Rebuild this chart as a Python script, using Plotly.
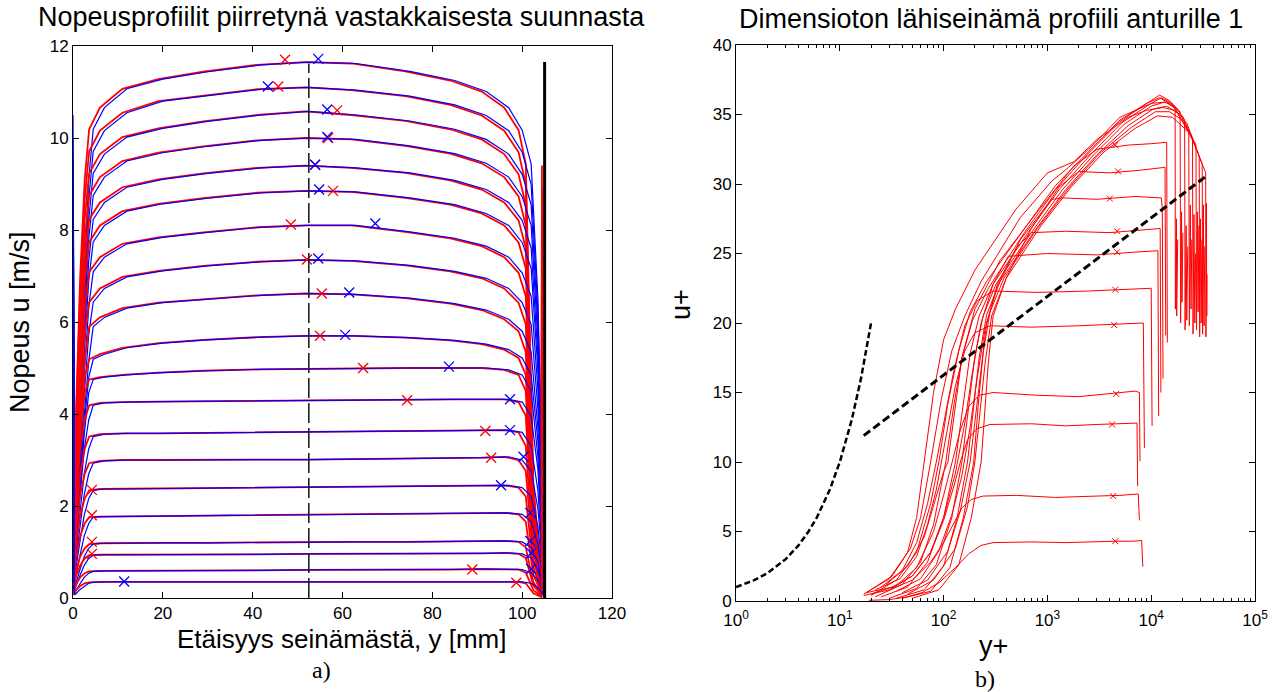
import plotly.graph_objects as go

# ---------------- LEFT PANEL DATA (velocity profiles, mm vs m/s) ----------------
# measurement stations (mm) for the blue and the red (opposite-direction) profiles
X_BLUE = [0.0, 0.4, 1.5, 2.5, 3.5, 4.5, 7.0, 12.0, 20.0, 30.0, 42.0, 52.5, 63.0, 75.0,
          85.0, 92.0, 97.0, 100.0, 102.0, 103.5, 104.5, 105.0]
X_RED = [0.0, 0.15, 0.7, 1.6, 2.6, 3.6, 6.0, 11.0, 19.0, 29.0, 41.0, 51.7, 62.0, 74.0,
         84.0, 91.0, 96.0, 99.2, 100.8, 101.5, 102.5, 104.3, 104.4]

# velocity values at stations 0.4 ... 105 mm for each of the 20 profiles
P01 = [1.17, 4.08, 6.99, 9.09, 10.19, 10.66, 11.07, 11.28, 11.44, 11.59, 11.65, 11.62, 11.45, 11.25, 11.01, 10.66, 10.17, 9.44, 6.52, 2.45, 0.35]
P02 = [1.11, 3.89, 6.66, 8.66, 9.71, 10.16, 10.55, 10.80, 10.92, 11.06, 11.10, 11.04, 10.91, 10.72, 10.49, 10.16, 9.69, 8.99, 6.22, 2.33, 0.33]
P03 = [1.06, 3.69, 6.33, 8.23, 9.23, 9.65, 10.02, 10.21, 10.36, 10.50, 10.58, 10.50, 10.37, 10.19, 9.97, 9.65, 9.21, 8.55, 5.91, 2.22, 0.32]
P04 = [1.00, 3.50, 6.00, 7.80, 8.75, 9.15, 9.50, 9.68, 9.82, 9.95, 10.00, 9.97, 9.83, 9.66, 9.45, 9.15, 8.73, 8.10, 5.60, 2.10, 0.30]
P05 = [0.94, 3.29, 5.64, 7.33, 8.23, 8.60, 8.93, 9.10, 9.23, 9.35, 9.40, 9.35, 9.24, 9.08, 8.88, 8.60, 8.21, 7.61, 5.26, 1.97, 0.28]
P06 = [0.89, 3.10, 5.31, 6.90, 7.74, 8.10, 8.41, 8.57, 8.69, 8.81, 8.85, 8.83, 8.70, 8.55, 8.36, 8.10, 7.73, 7.17, 4.96, 1.86, 0.27]
P07 = [0.81, 2.84, 4.86, 6.32, 7.09, 7.41, 7.70, 7.84, 7.95, 8.06, 8.10, 8.10, 7.96, 7.82, 7.65, 7.41, 7.07, 6.56, 4.54, 1.70, 0.24]
P08 = [0.74, 2.57, 4.41, 5.73, 6.43, 6.73, 6.98, 7.11, 7.22, 7.31, 7.35, 7.33, 7.23, 7.10, 6.95, 6.73, 6.42, 5.95, 4.12, 1.54, 0.22]
P09 = [0.66, 2.31, 3.96, 5.15, 5.90, 6.10, 6.30, 6.42, 6.50, 6.58, 6.62, 6.60, 6.52, 6.40, 6.26, 6.06, 5.80, 5.35, 3.70, 1.39, 0.20]
P10 = [0.68, 2.28, 3.76, 4.79, 5.19, 5.30, 5.44, 5.54, 5.61, 5.67, 5.70, 5.70, 5.66, 5.60, 5.52, 5.40, 5.22, 4.85, 3.42, 1.31, 0.23]
P11 = [0.74, 2.23, 3.56, 4.46, 4.75, 4.80, 4.85, 4.90, 4.94, 4.97, 4.98, 5.00, 5.00, 5.00, 5.00, 4.96, 4.85, 4.50, 3.07, 1.24, 0.25]
P12 = [0.86, 2.15, 3.23, 3.87, 4.19, 4.24, 4.26, 4.27, 4.28, 4.29, 4.30, 4.30, 4.31, 4.32, 4.32, 4.32, 4.26, 3.96, 2.80, 1.20, 0.26]
P13 = [0.72, 1.80, 2.70, 3.24, 3.51, 3.56, 3.58, 3.58, 3.59, 3.60, 3.60, 3.61, 3.62, 3.63, 3.64, 3.65, 3.60, 3.31, 2.34, 1.01, 0.22]
P14 = [0.60, 1.50, 2.25, 2.70, 2.93, 2.98, 3.00, 3.00, 3.00, 3.01, 3.01, 3.02, 3.03, 3.04, 3.05, 3.07, 3.00, 2.76, 1.95, 0.84, 0.18]
P15 = [0.48, 1.20, 1.80, 2.16, 2.34, 2.37, 2.38, 2.38, 2.39, 2.40, 2.40, 2.41, 2.42, 2.43, 2.44, 2.45, 2.40, 2.21, 1.56, 0.67, 0.14]
P16 = [0.36, 0.90, 1.35, 1.62, 1.76, 1.77, 1.78, 1.78, 1.79, 1.80, 1.80, 1.81, 1.82, 1.83, 1.84, 1.85, 1.82, 1.66, 1.17, 0.50, 0.11]
P17 = [0.24, 0.60, 0.90, 1.08, 1.17, 1.19, 1.20, 1.20, 1.20, 1.21, 1.21, 1.22, 1.22, 1.23, 1.23, 1.24, 1.22, 1.10, 0.78, 0.34, 0.07]
P18 = [0.19, 0.48, 0.71, 0.86, 0.93, 0.94, 0.94, 0.95, 0.95, 0.95, 0.96, 0.96, 0.96, 0.97, 0.97, 0.98, 0.96, 0.87, 0.62, 0.27, 0.06]
P19 = [0.12, 0.30, 0.45, 0.54, 0.58, 0.59, 0.59, 0.59, 0.60, 0.60, 0.61, 0.61, 0.62, 0.62, 0.63, 0.63, 0.62, 0.55, 0.39, 0.17, 0.04]
P20 = [0.07, 0.18, 0.26, 0.32, 0.34, 0.35, 0.35, 0.35, 0.35, 0.35, 0.35, 0.35, 0.35, 0.35, 0.35, 0.36, 0.35, 0.32, 0.23, 0.10, 0.02]
PROFILES = [P01, P02, P03, P04, P05, P06, P07, P08, P09, P10,
            P11, P12, P13, P14, P15, P16, P17, P18, P19, P20]

# readings right at the walls
BLUE_WALL_L = [10.5, 10.0, 9.5, 9.0, 8.5, 8.0, 7.3, 6.6, 5.9, 5.1, 4.4, 3.9, 3.2, 2.7, 2.1, 1.6, 1.1, 0.85, 0.55, 0.3]
RED_WALL_L = [4.5, 4.3, 4.1, 3.9, 3.6, 3.4, 3.1, 2.8, 2.5, 2.2, 2.0, 1.8, 1.5, 1.3, 1.0, 0.8, 0.55, 0.45, 0.3, 0.18]
RED_WALL_R = [9.4, 8.9, 8.3, 7.8, 7.2, 6.6, 6.0, 5.4, 4.8, 4.2, 3.6, 3.1, 2.6, 2.2, 1.8, 1.4, 1.0, 0.8, 0.5, 0.3]

# 'x' markers on each profile
RED_MX = [47.2, 45.7, 58.8, 56.8, 53.9, 57.9, 48.5, 52.1, 55.4, 55.0, 64.6, 74.4, 91.8, 93.1, 4.2, 4.2, 4.2, 4.2, 88.9, 98.7]
RED_MY = [11.70, 11.12, 10.60, 10.00, 9.42, 8.85, 8.12, 7.36, 6.62, 5.70, 5.00, 4.30, 3.63, 3.05, 2.35, 1.80, 1.22, 0.96, 0.62, 0.33]
BLUE_MX = [54.6, 43.4, 56.6, 56.6, 53.9, 54.8, 67.3, 54.6, 61.5, 60.6, 83.7, 97.3, 97.3, 100.3, 95.3, 101.8, 101.8, 102.0, 102.0, 11.4]
BLUE_MY = [11.72, 11.12, 10.62, 10.02, 9.42, 8.88, 8.14, 7.38, 6.64, 5.72, 5.03, 4.32, 3.65, 3.07, 2.45, 1.85, 1.24, 0.98, 0.63, 0.36]

CENTER_X = 52.5
CENTER_TOP = 11.62
WALL_X = 105.0
WALL_TOP = 11.65

# ---------------- RIGHT PANEL DATA (y+ vs u+) ----------------
RIGHT_YPLUS = [
    [19, 30, 45, 62, 90, 130, 175, 230, 300, 700, 1500, 3000, 4500, 6500, 8100, 8300],
    [17, 30, 50, 75, 100, 125, 150, 185, 240, 500, 1200, 3000, 5000, 7500, 7700],
    [18, 32, 50, 75, 100, 125, 145, 170, 210, 280, 700, 1500, 3000, 5500, 7300, 7400],
    [20, 35, 55, 80, 100, 120, 145, 175, 220, 300, 800, 2000, 4000, 7000, 7700, 7800],
    [22, 38, 55, 70, 85, 95, 110, 130, 160, 200, 280, 700, 2000, 4500, 8400, 8600],
    [25, 40, 55, 70, 85, 100, 125, 160, 210, 300, 800, 2500, 6000, 10000, 10200],
    [30, 50, 75, 100, 130, 160, 190, 230, 300, 420, 1000, 3000, 7000, 11600, 11800],
    [35, 60, 90, 120, 150, 180, 210, 250, 330, 500, 700, 1500, 4000, 8000, 12200, 12400],
    [40, 70, 110, 145, 180, 205, 230, 260, 330, 550, 1100, 1400, 3000, 7000, 12500, 12800, 13000],
    [45, 80, 130, 170, 200, 225, 250, 290, 400, 700, 1300, 2000, 4000, 8000, 13600, 13800],
    [28, 45, 65, 85, 100, 110, 125, 150, 200, 350, 800, 1800, 3000, 6000, 10000, 14100, 14300],
    [17, 30, 45, 55, 65, 80, 100, 130, 200, 500, 1000, 1800, 3000, 6000, 9000, 13000, 17000, 17100, 17500, 17600, 18000],
    [18, 32, 48, 60, 75, 95, 120, 160, 230, 550, 1100, 1600, 2500, 5000, 10000, 14000, 19000, 19200, 19600, 19800, 20200],
    [20, 35, 55, 75, 90, 110, 140, 180, 260, 600, 1200, 2400, 5000, 9000, 12000, 17000, 21000, 21200, 21700, 22000, 22500],
    [22, 40, 60, 80, 105, 125, 150, 190, 270, 600, 1200, 2400, 5000, 9000, 12000, 15000, 23000, 23300, 23800, 24200, 24600],
    [25, 45, 70, 100, 130, 155, 180, 220, 300, 650, 1300, 2600, 5200, 9500, 12500, 16000, 25000, 25300, 25800, 26300, 26800],
    [30, 55, 85, 120, 150, 175, 200, 240, 320, 700, 1400, 2800, 5500, 10000, 13500, 18000, 27000, 27300, 27800, 28300, 28800],
    [35, 65, 100, 135, 170, 195, 220, 260, 350, 750, 1500, 3000, 6000, 10500, 14000, 20000, 29000, 29300, 29800, 30300, 30800],
    [40, 75, 115, 155, 195, 215, 240, 280, 380, 800, 1600, 3200, 6500, 11000, 15000, 22000, 31000, 31300, 31800, 32300, 32800],
    [50, 90, 140, 185, 230, 250, 270, 300, 400, 850, 1700, 3500, 7000, 11500, 16000, 24000, 33500, 33700, 34000, 34300, 34500],
]
RIGHT_UPLUS = [
    [0.05, 0.1, 0.3, 0.6, 1.3, 2.4, 3.4, 4.0, 4.2, 4.25, 4.2, 4.28, 4.3, 4.3, 4.35, 2.48],
    [0.4, 0.8, 1.5, 2.8, 4.2, 5.6, 6.7, 7.3, 7.55, 7.6, 7.45, 7.55, 7.6, 7.7, 5.8],
    [0.6, 1.0, 1.8, 3.5, 5.8, 8.2, 10.0, 11.6, 12.4, 12.7, 12.75, 12.6, 12.7, 12.75, 12.8, 8.25],
    [0.5, 1.1, 2.4, 5.0, 7.6, 10.0, 12.3, 14.0, 14.8, 15.0, 14.8, 14.7, 14.9, 15.1, 15.0, 10.06],
    [0.8, 1.6, 3.2, 5.5, 8.0, 10.0, 12.8, 15.5, 18.0, 19.3, 19.8, 19.7, 19.8, 19.9, 20.0, 11.0],
    [1.0, 2.2, 4.2, 7.0, 10.0, 12.8, 16.5, 19.8, 21.6, 22.3, 22.2, 22.3, 22.4, 22.5, 12.6],
    [0.8, 1.8, 3.5, 6.0, 9.2, 12.8, 16.5, 20.0, 22.8, 24.8, 25.0, 24.9, 25.1, 25.2, 13.3],
    [0.7, 1.6, 3.6, 6.2, 9.0, 12.5, 16.0, 19.5, 22.8, 25.4, 26.5, 26.6, 26.5, 26.7, 26.8, 15.0],
    [0.6, 1.5, 3.6, 6.5, 10.0, 13.5, 17.0, 20.0, 22.6, 26.0, 28.9, 29.0, 28.9, 29.1, 29.0, 28.2, 16.0],
    [0.5, 1.5, 3.8, 6.8, 10.0, 13.5, 17.0, 20.5, 23.2, 26.8, 29.8, 30.9, 30.8, 31.0, 31.2, 19.1],
    [1.2, 2.5, 4.6, 7.5, 9.3, 10.0, 13.2, 17.5, 21.0, 24.5, 28.0, 31.3, 32.5, 32.8, 32.9, 33.0, 18.6],
    [0.5, 1.6, 3.5, 6.0, 10.0, 15.0, 18.8, 21.0, 23.8, 28.2, 30.8, 31.6, 33.2, 34.8, 35.3, 35.5, 35.3, 21.0, 27.5, 20.5, 26.0],
    [0.6, 1.8, 3.8, 6.0, 10.0, 14.5, 18.0, 20.5, 23.0, 27.6, 30.2, 31.2, 32.5, 34.8, 35.8, 35.9, 35.2, 20.0, 28.0, 21.5, 26.5],
    [0.4, 1.5, 3.5, 7.0, 10.0, 14.2, 18.0, 20.8, 23.0, 26.8, 29.9, 32.2, 34.6, 35.8, 36.2, 35.6, 34.6, 19.5, 27.0, 20.2, 25.5],
    [0.3, 1.2, 2.8, 5.5, 10.0, 14.0, 17.5, 20.2, 22.5, 26.5, 29.6, 32.1, 34.5, 35.8, 36.4, 36.0, 33.8, 19.8, 28.5, 21.0, 26.0],
    [0.3, 1.0, 2.8, 6.0, 10.0, 14.2, 17.8, 20.5, 22.8, 26.5, 29.6, 32.1, 34.4, 35.7, 36.2, 35.8, 33.2, 19.2, 27.8, 20.0, 25.0],
    [0.2, 0.9, 2.6, 6.0, 10.0, 14.0, 17.6, 20.5, 22.8, 26.5, 29.6, 32.1, 34.3, 35.6, 35.9, 35.4, 32.8, 19.5, 28.0, 20.8, 27.0],
    [0.2, 0.8, 2.5, 6.0, 10.0, 14.0, 17.5, 20.6, 23.0, 26.6, 29.6, 32.1, 34.2, 35.4, 35.6, 34.9, 32.0, 19.0, 27.5, 20.0, 26.0],
    [0.2, 0.7, 2.4, 6.0, 10.0, 14.0, 17.8, 20.8, 23.2, 26.8, 29.7, 32.2, 34.1, 35.2, 35.2, 34.4, 31.4, 19.2, 28.5, 19.8, 25.5],
    [0.2, 0.8, 2.6, 6.0, 10.0, 13.5, 17.2, 20.5, 23.2, 26.9, 29.8, 32.3, 34.0, 34.9, 34.8, 33.6, 30.8, 19.0, 28.6, 20.5, 23.5],
]
RIGHT_MARK_Y = [4500, 4300, 4200, 4600, 4400, 4500, 4700, 4700, 4000, 4800, 4500]
RIGHT_MARK_U = [4.3, 7.55, 12.7, 14.9, 19.85, 22.4, 25.1, 26.6, 28.95, 30.9, 32.8]

VISC_YPLUS = [1, 1.5, 2, 3, 4, 5, 6, 8, 10, 13, 16, 20]
VISC_UPLUS = [1, 1.5, 2, 3, 4, 5, 6, 8, 10, 13, 16, 20]
LOGLAW_YPLUS = [17, 33000]
LOGLAW_UPLUS = [11.9, 30.5]

LEFT_XTICKS = [0, 20, 40, 60, 80, 100, 120]
LEFT_YTICKS = [0, 2, 4, 6, 8, 10, 12]
RIGHT_XTICKS = [1, 10, 100, 1000, 10000, 100000]
RIGHT_XTICK_TEXT = ["10<sup>0</sup>", "10<sup>1</sup>", "10<sup>2</sup>", "10<sup>3</sup>",
                    "10<sup>4</sup>", "10<sup>5</sup>"]
RIGHT_YTICKS = [0, 5, 10, 15, 20, 25, 30, 35, 40]

# ---------------- FIGURE ----------------
W, H = 1278, 692
RED = "#ff0000"
BLUE = "#0000ff"
SANS = "Liberation Sans, Arial, sans-serif"
SERIF = "Liberation Serif, Times New Roman, serif"


def fx(p):
    return p / W


def fy(p):
    return 1 - p / H


fig = go.Figure()

for i, prof in enumerate(PROFILES):
    fig.add_trace(go.Scatter(x=X_RED, y=[RED_WALL_L[i]] + prof + [RED_WALL_R[i]],
                             mode="lines", line=dict(color=RED, width=1.8),
                             xaxis="x", yaxis="y", showlegend=False, hoverinfo="skip"))
    fig.add_trace(go.Scatter(x=X_BLUE, y=[BLUE_WALL_L[i]] + prof,
                             mode="lines", line=dict(color=BLUE, width=1.2),
                             xaxis="x", yaxis="y", showlegend=False, hoverinfo="skip"))

fig.add_trace(go.Scatter(x=RED_MX, y=RED_MY, mode="markers",
                         marker=dict(symbol="x-thin", size=10, line=dict(color=RED, width=1.3)),
                         xaxis="x", yaxis="y", showlegend=False, hoverinfo="skip"))
fig.add_trace(go.Scatter(x=BLUE_MX, y=BLUE_MY, mode="markers",
                         marker=dict(symbol="x-thin", size=10, line=dict(color=BLUE, width=1.3)),
                         xaxis="x", yaxis="y", showlegend=False, hoverinfo="skip"))

fig.add_trace(go.Scatter(x=[CENTER_X, CENTER_X], y=[0, CENTER_TOP], mode="lines",
                         line=dict(color="#222222", width=1.6, dash="20px,5px"),
                         xaxis="x", yaxis="y", showlegend=False, hoverinfo="skip"))
fig.add_trace(go.Scatter(x=[WALL_X, WALL_X], y=[0, WALL_TOP], mode="lines",
                         line=dict(color="black", width=3),
                         xaxis="x", yaxis="y", showlegend=False, hoverinfo="skip"))

# right panel
for yp, up in zip(RIGHT_YPLUS, RIGHT_UPLUS):
    fig.add_trace(go.Scatter(x=yp, y=up, mode="lines", line=dict(color=RED, width=1),
                             xaxis="x2", yaxis="y2", showlegend=False, hoverinfo="skip"))
fig.add_trace(go.Scatter(x=RIGHT_MARK_Y, y=RIGHT_MARK_U, mode="markers",
                         marker=dict(symbol="x-thin", size=6, line=dict(color=RED, width=1)),
                         xaxis="x2", yaxis="y2", showlegend=False, hoverinfo="skip"))
fig.add_trace(go.Scatter(x=VISC_YPLUS, y=VISC_UPLUS, mode="lines",
                         line=dict(color="black", width=2.5, dash="6px,3px"),
                         xaxis="x2", yaxis="y2", showlegend=False, hoverinfo="skip"))
fig.add_trace(go.Scatter(x=LOGLAW_YPLUS, y=LOGLAW_UPLUS, mode="lines",
                         line=dict(color="black", width=3, dash="8px,4px"),
                         xaxis="x2", yaxis="y2", showlegend=False, hoverinfo="skip"))

axis_common = dict(showline=True, linecolor="black", linewidth=1, mirror="ticks",
                   ticks="inside", ticklen=6, tickcolor="black", showgrid=False,
                   zeroline=False, automargin=False,
                   tickfont=dict(family=SANS, size=17, color="black"))

minor_vals = []
for dec in [1, 10, 100, 1000, 10000]:
    for m in range(2, 10):
        minor_vals.append(m * dec)

fig.update_layout(
    width=W, height=H, margin=dict(l=0, r=0, t=0, b=0, autoexpand=False),
    paper_bgcolor="white", plot_bgcolor="white", showlegend=False,
    xaxis=dict(domain=[fx(73), fx(612)], range=[0, 120], tickmode="array",
               tickvals=LEFT_XTICKS, anchor="y", **axis_common),
    yaxis=dict(domain=[fy(598), fy(46)], range=[0, 12], tickmode="array",
               tickvals=LEFT_YTICKS, anchor="x", **axis_common),
    xaxis2=dict(domain=[fx(736), fx(1255)], type="log", range=[0, 5], tickmode="array",
                tickvals=RIGHT_XTICKS, ticktext=RIGHT_XTICK_TEXT, anchor="y2",
                ticklabelstandoff=4,
                minor=dict(tickmode="array", tickvals=minor_vals, ticks="inside",
                           ticklen=3, tickcolor="black", showgrid=False),
                **axis_common),
    yaxis2=dict(domain=[fy(601), fy(45)], range=[0, 40], tickmode="array",
                tickvals=RIGHT_YTICKS, anchor="x2", **axis_common),
)

ann = [
    dict(text="Nopeusprofiilit piirretynä vastakkaisesta suunnasta", x=fx(341), y=fy(17),
         size=27, family=SANS, angle=0),
    dict(text="Dimensioton lähiseinämä profiili anturille 1", x=fx(991), y=fy(19),
         size=27, family=SANS, angle=0),
    dict(text="Nopeus u [m/s]", x=fx(20), y=fy(322), size=27, family=SANS, angle=-90),
    dict(text="Etäisyys seinämästä, y [mm]", x=fx(342), y=fy(639), size=26, family=SANS, angle=0),
    dict(text="a)", x=fx(322), y=fy(670), size=24, family=SERIF, angle=0),
    dict(text="u+", x=fx(681), y=fy(305), size=27, family=SANS, angle=-90),
    dict(text="y+", x=fx(993), y=fy(646), size=27, family=SANS, angle=0),
    dict(text="b)", x=fx(985), y=fy(679), size=24, family=SERIF, angle=0),
]
for a in ann:
    fig.add_annotation(text=a["text"], x=a["x"], y=a["y"], xref="paper", yref="paper",
                       showarrow=False, xanchor="center", yanchor="middle",
                       textangle=a["angle"],
                       font=dict(family=a["family"], size=a["size"], color="black"))

fig.write_html("out.html")
